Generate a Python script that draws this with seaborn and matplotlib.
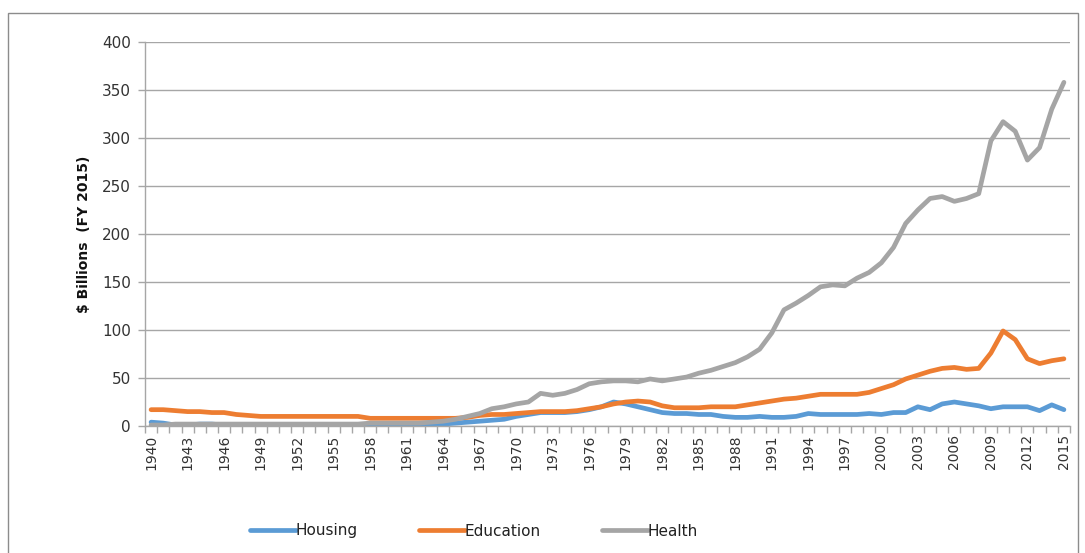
import numpy as np
import pandas as pd
import matplotlib
matplotlib.use("Agg")
import matplotlib.pyplot as plt
import seaborn as sns
from matplotlib.patches import Rectangle
from matplotlib.lines import Line2D

years = list(range(1940, 2016))

housing = [4, 3, 1, 1, 2, 2, 1, 1, 1, 1,
           1, 1, 1, 1, 1, 1, 1, 1, 1, 1,
           1, 1, 2, 2, 2, 3, 4, 5, 6, 7,
           10, 12, 14, 14, 14, 15, 17, 20, 25, 23,
           20, 17, 14, 13, 13, 12, 12, 10, 9, 9,
           10, 9, 9, 10, 13, 12, 12, 12, 12, 13,
           12, 14, 14, 20, 17, 23, 25, 23, 21, 18,
           20, 20, 20, 16, 22, 17]

education = [17, 17, 16, 15, 15, 14, 14, 12, 11, 10,
             10, 10, 10, 10, 10, 10, 10, 10, 8, 8,
             8, 8, 8, 8, 8, 8, 9, 11, 12, 12,
             13, 14, 15, 15, 15, 16, 18, 20, 23, 25,
             26, 25, 21, 19, 19, 19, 20, 20, 20, 22,
             24, 26, 28, 29, 31, 33, 33, 33, 33, 35,
             39, 43, 49, 53, 57, 60, 61, 59, 60, 76,
             99, 90, 70, 65, 68, 70]

health = [1, 1, 2, 2, 2, 2, 2, 2, 2, 2,
          2, 2, 2, 2, 2, 2, 2, 2, 3, 3,
          3, 3, 3, 4, 5, 7, 10, 13, 18, 20,
          23, 25, 34, 32, 34, 38, 44, 46, 47, 47,
          46, 49, 47, 49, 51, 55, 58, 62, 66, 72,
          80, 97, 121, 128, 136, 145, 147, 146, 154, 160,
          170, 186, 211, 225, 237, 239, 234, 237, 242, 297,
          317, 307, 277, 290, 330, 358]

series_names = ["Housing", "Education", "Health"]
colors = ["#5B9BD5", "#ED7D31", "#A5A5A5"]
tick_years = list(range(1940, 2016, 3))

df = pd.DataFrame({
    "Year": years * 3,
    "Value": housing + education + health,
    "Series": ["Housing"] * len(years) + ["Education"] * len(years) + ["Health"] * len(years),
})

sns.set_theme(style="white")
plt.rcParams["font.family"] = ["DejaVu Sans"]

fig = plt.figure(figsize=(10.85, 5.53), dpi=100)
ax = fig.add_axes([145 / 1085, 1 - 426 / 553, (1070 - 145) / 1085, (426 - 42) / 553])

sns.lineplot(data=df, x="Year", y="Value", hue="Series", hue_order=series_names,
             palette=dict(zip(series_names, colors)), linewidth=3.4, ax=ax,
             legend=False)

grid_c = "#a6a6a6"
ax.set_xlim(1939.5, 2015.5)
ax.set_ylim(0, 400)
ax.set_yticks(range(0, 401, 50))
ax.yaxis.grid(True, color=grid_c, linewidth=1.0)
ax.xaxis.grid(False)
ax.set_axisbelow(True)
for s in ["top", "right"]:
    ax.spines[s].set_visible(False)
for s in ["left", "bottom"]:
    ax.spines[s].set_color(grid_c)
    ax.spines[s].set_linewidth(1.0)

ax.set_xticks(tick_years)
ax.set_xticklabels([str(y) for y in tick_years], rotation=90, fontsize=10, color="#333333")
ax.tick_params(axis="x", which="major", length=0, pad=6)
ax.set_xticks(np.arange(1939.5, 2016, 1.0), minor=True)
ax.tick_params(axis="x", which="minor", length=5, color=grid_c, width=1, bottom=True)
ax.tick_params(axis="y", which="major", length=5, color=grid_c, width=1, left=True,
               labelsize=11, labelcolor="#333333", pad=5)

ax.set_xlabel("")
ax.set_ylabel("$ Billions  (FY 2015)", fontsize=10, fontweight="bold", color="#111111", labelpad=8)

handles = [Line2D([0], [0], color=c, linewidth=3.4, solid_capstyle="round") for c in colors]
fig.legend(handles, series_names, loc="center", bbox_to_anchor=(474 / 1085, 1 - 531 / 553),
           ncol=3, frameon=False, handlelength=3.0, handletextpad=0.0, columnspacing=4.0,
           fontsize=11, labelcolor="#222222")

fig.patches.append(Rectangle((8 / 1085, -0.01), (1078 - 8) / 1085, 1 - 13 / 553 + 0.01,
                             transform=fig.transFigure, fill=False, edgecolor="#8c8c8c",
                             linewidth=1.0))

fig.savefig("out.png", dpi=100, facecolor="white")
